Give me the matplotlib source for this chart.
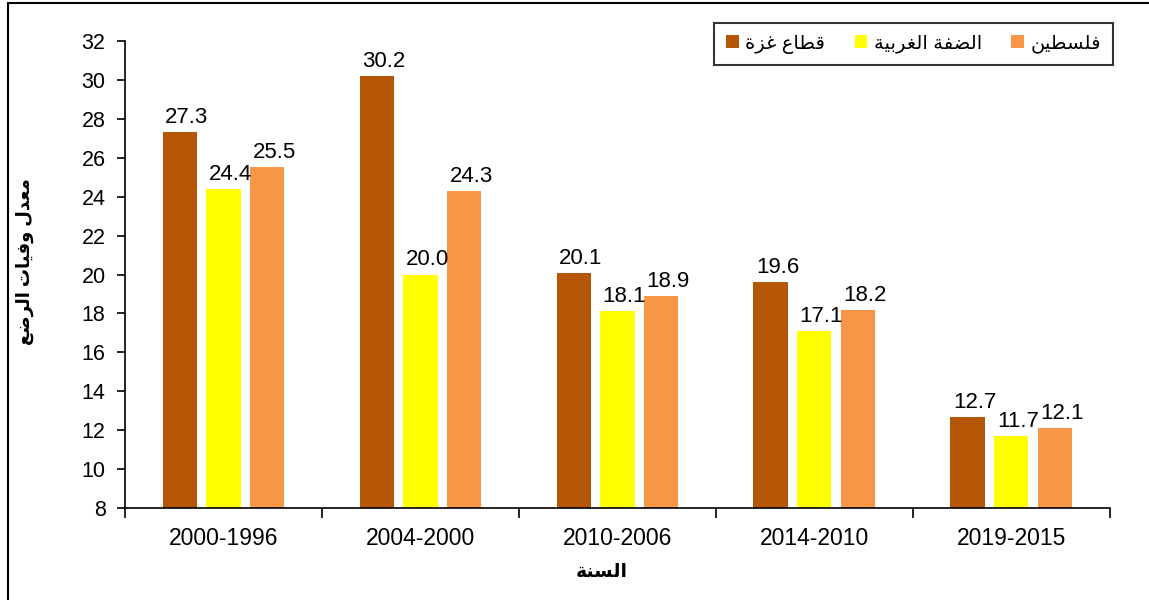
import matplotlib.pyplot as plt
from matplotlib.patches import Rectangle
import numpy as np

plt.rcParams['font.family'] = ['Liberation Sans', 'DejaVu Sans']

# ---- data ----
periods = ['2000-1996', '2004-2000', '2010-2006', '2014-2010', '2019-2015']
gaza = [27.3, 30.2, 20.1, 19.6, 12.7]
west_bank = [24.4, 20.0, 18.1, 17.1, 11.7]
palestine = [25.5, 24.3, 18.9, 18.2, 12.1]

# Arabic text in presentation forms, visual order (matplotlib has no shaping)
lbl_gaza = '\uFE93\uFEB0\uFECF \uFEC9\uFE8E\uFEC4\uFED7'                       # قطاع غزة
lbl_wb = ('\uFE94\uFEF4\uFE91\uFEAE\uFED0\uFEDF\uFE8D '
          '\uFE94\uFED4\uFEC0\uFEDF\uFE8D')                                   # الضفة الغربية
lbl_pal = '\uFEE6\uFEF4\uFEC4\uFEB4\uFEE0\uFED3'                              # فلسطين
xlabel = '\uFE94\uFEE8\uFEB4\uFEDF\uFE8D'                                     # السنة
ylabel = ('\uFECA\uFEBF\uFEAE\uFEDF\uFE8D \uFE95\uFE8E\uFEF4\uFED3\uFEED '
          '\uFEDD\uFEAA\uFECC\uFEE3')                                         # معدل وفيات الرضع

series = [gaza, west_bank, palestine]
names = [lbl_gaza, lbl_wb, lbl_pal]
colors = ['#B65708', '#FFFF00', '#F79646']

# ---- plot ----
fig = plt.figure(figsize=(11.49, 6.0), dpi=100)
ax = fig.add_axes([0.1088, 0.1533, 0.966 - 0.1088, 0.9317 - 0.1533])

x = np.arange(len(periods))
width = 0.173
offsets = [-0.223, 0.0, 0.223]

for vals, name, col, off in zip(series, names, colors, offsets):
    bars = ax.bar(x + off, vals, width, color=col, label=name, zorder=2)
    for b, v in zip(bars, vals):
        ax.annotate(f'{v:.1f}', (b.get_x() + b.get_width() / 2, v),
                    xytext=(5, 6.5), textcoords='offset points',
                    ha='center', va='baseline', fontsize=16)

ax.set_ylim(8, 32)
ax.set_yticks(np.arange(8, 33, 2))
ax.set_xlim(-0.5, len(periods) - 0.5)
ax.set_xticks(x)
ax.set_xticklabels(periods)
ax.set_xticks(np.arange(-0.5, len(periods)), minor=True)
ax.tick_params(axis='x', which='major', length=0, labelsize=16.5, pad=14)
ax.tick_params(axis='x', which='minor', length=7, width=1.2, direction='out')
ax.tick_params(axis='y', length=6, width=1.2, labelsize=15.5, pad=8)

for s in ['top', 'right']:
    ax.spines[s].set_visible(False)
for s in ['left', 'bottom']:
    ax.spines[s].set_linewidth(1.2)

ax.set_xlabel(xlabel, fontsize=13.5, fontweight='bold', va='center')
ax.xaxis.set_label_coords(0.484, -0.139)
ax.set_ylabel(ylabel, fontsize=13, fontweight='bold', va='center')
ax.yaxis.set_label_coords(-0.1015, 0.527)

leg = ax.legend(loc='upper right', ncol=3, fontsize=14,
                bbox_to_anchor=(1113 / 1149, 1 - 23 / 600),
                bbox_transform=fig.transFigure, frameon=True, fancybox=False,
                borderaxespad=0, handlelength=0.65, handleheight=0.65,
                columnspacing=1.5, handletextpad=0.35, borderpad=0.6)
leg.get_frame().set_edgecolor('black')
leg.get_frame().set_linewidth(1.5)

# outer frame (clipped at right and bottom in the reference)
fig.patches.append(Rectangle((8 / 1149, -0.05), 1.2, 1 - 3 / 600 + 0.05,
                             transform=fig.transFigure, fill=False,
                             edgecolor='black', linewidth=1.5))

fig.savefig('out.png', dpi=100)
